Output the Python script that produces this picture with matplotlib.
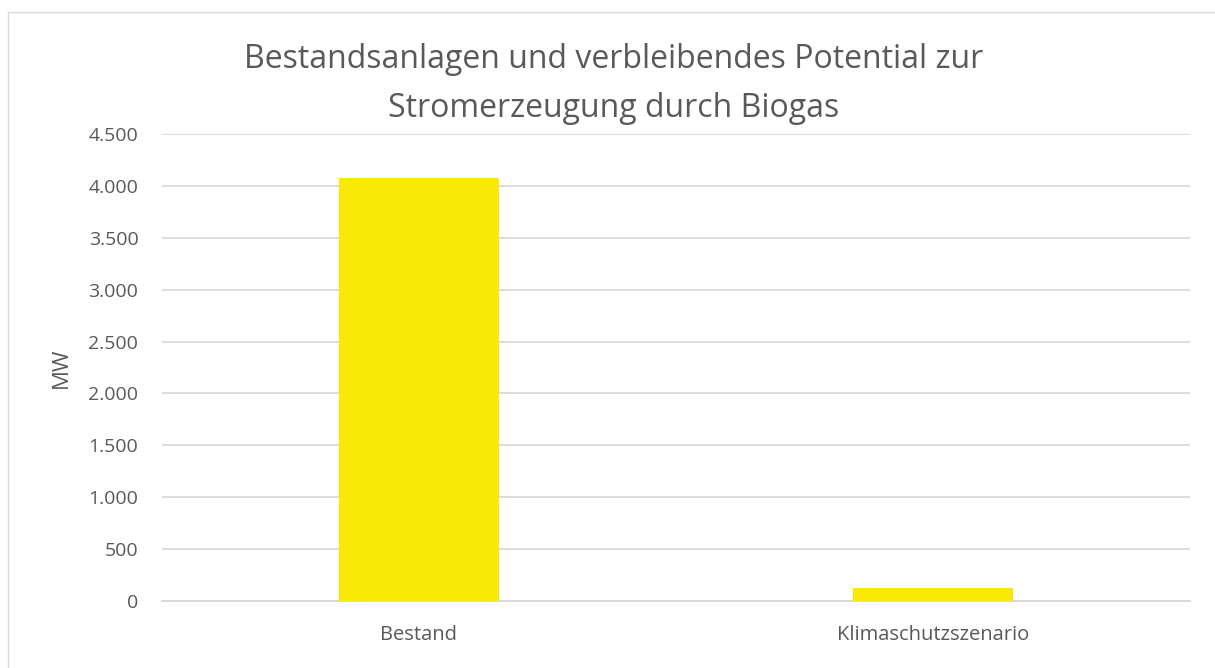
import matplotlib as mpl
mpl.use('Agg')
import matplotlib.pyplot as plt
from matplotlib.ticker import FuncFormatter, MultipleLocator
from matplotlib.lines import Line2D

categories = ['Bestand', 'Klimaschutzszenario']
values = [4080, 125]
title = 'Bestandsanlagen und verbleibendes Potential zur\nStromerzeugung durch Biogas'

txt = '#595959'
plt.rcParams['font.family'] = ['Open Sans', 'DejaVu Sans']

fig = plt.figure(figsize=(12.15, 6.68), dpi=100)
ax = fig.add_axes([0.1333, 0.1003, 0.8461, 0.6991])

ax.bar(range(len(values)), values, width=0.313, color='#FAE807', zorder=3)
ax.set_xlim(-0.5, len(values) - 0.5)
ax.set_ylim(0, 4500)
ax.yaxis.set_major_locator(MultipleLocator(500))
ax.yaxis.set_major_formatter(FuncFormatter(lambda v, p: f'{int(v):,}'.replace(',', '.')))
ax.set_xticks(range(len(categories)))
ax.set_xticklabels(categories)
ax.grid(axis='y', color='#D9D9D9', linewidth=1.3, zorder=0)
for s in ['top', 'right', 'left']:
    ax.spines[s].set_visible(False)
ax.spines['bottom'].set_color('#D9D9D9')
ax.spines['bottom'].set_linewidth(1.3)
ax.tick_params(axis='both', length=0, labelcolor=txt)
ax.tick_params(axis='y', pad=17, labelsize=14)
ax.tick_params(axis='x', pad=17, labelsize=14.5)
ax.set_ylabel('MW', fontsize=16, color=txt, labelpad=12)

fig.text(0.505, 0.874, title, ha='center', va='center', fontsize=23, color=txt, linespacing=1.65)

# outer frame (only top and left edges visible in the crop)
fig.lines.append(Line2D([8 / 1215, 8 / 1215, 1.0], [0.0, 1 - 12 / 668, 1 - 12 / 668],
                        transform=fig.transFigure, color='#D9D9D9', linewidth=1))

fig.savefig('out.png', dpi=100)
plt.close()
